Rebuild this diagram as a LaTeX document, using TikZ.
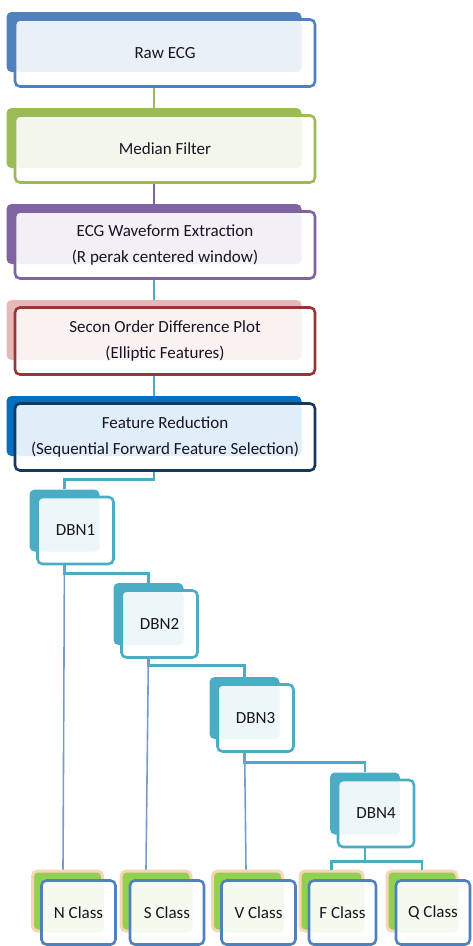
\documentclass[tikz,border=0pt]{standalone}
\usepackage{fontspec}
\setmainfont{Carlito}
\usepackage{tikz}
\usetikzlibrary{positioning, calc}
\usepackage{xcolor}
\definecolor{rawblue}{RGB}{79,129,189}
\definecolor{medgreen}{RGB}{155,187,89}
\definecolor{wavepurple}{RGB}{128,100,162}
\definecolor{sodppink}{RGB}{230,185,184}
\definecolor{sodpred}{RGB}{149,55,53}
\definecolor{fredblue}{RGB}{0,112,192}
\definecolor{frednavy}{RGB}{23,55,94}
\definecolor{dbnteal}{RGB}{75,172,198}
\definecolor{clsgreen}{RGB}{146,208,80}
\definecolor{clsglow}{RGB}{251,212,180}
\definecolor{leafblue}{RGB}{120,155,205}
\definecolor{textdark}{RGB}{25,20,35}
\newcommand{\boxfont}{\fontsize{17}{26}\selectfont}

\tikzset{
  stagebk/.style={rectangle, rounded corners=5pt, fill=#1, inner sep=0pt,
    minimum width=295pt, minimum height=60pt},
  stagebox/.style={rectangle, rounded corners=5pt, draw=#1, line width=2.6pt,
    fill=white, inner sep=0pt, minimum width=300pt, minimum height=67pt,
    align=center, font=\boxfont, text=textdark},
  tint/.style 2 args={path picture={
    \fill[#1] (path picture bounding box.north west) rectangle (#2.south east);}},
  dbnbk/.style={stagebk=dbnteal, minimum width=70pt, minimum height=62pt},
  dbnbox/.style={stagebox=dbnteal, minimum width=76pt, minimum height=67pt,
    tint={dbnteal!10}{#1}},
  clsbk/.style={rectangle, rounded corners=5pt, fill=clsgreen, draw=clsglow,
    line width=3pt, minimum width=70pt, minimum height=60pt},
  clsbox/.style={stagebox=rawblue, minimum width=74pt, minimum height=64pt,
    tint={clsgreen!10}{#1}},
  link/.style={draw=#1, line width=2.8pt},
  leaf/.style={draw=leafblue, line width=1.6pt}
}

\begin{document}
\begin{tikzpicture}[x=1pt, y=-1pt]
  \useasboundingbox (0,0) rectangle (473,946);

  % back plates of the pipeline
  \node[stagebk=rawblue] (rawbk) at (154,42) {};
  \node[stagebk=medgreen, below=35.6pt of rawbk] (medianbk) {};
  \node[stagebk=wavepurple, below=35.6pt of medianbk] (wavebk) {};
  \node[stagebk=sodppink, below=35.6pt of wavebk] (sodpbk) {};
  \node[stagebk=fredblue, below=35.6pt of sodpbk] (fredbk) {};

  \node[dbnbk] (dbn1bk) at (64.5,520.5) {};
  \node[dbnbk] (dbn2bk) at (148.5,614) {};
  \node[dbnbk] (dbn3bk) at (244.5,708) {};
  \node[dbnbk] (dbn4bk) at (365,803.5) {};

  \node[clsbk] (nclsbk) at (67.5,901) {};
  \node[clsbk] (sclsbk) at (156,901) {};
  \node[clsbk] (vclsbk) at (247.5,901) {};
  \node[clsbk, minimum width=63pt] (fclsbk) at (331.5,901) {};
  \node[clsbk] (qclsbk) at (422,901) {};

  % connectors
  \draw[link=medgreen] (rawbk.south) -- (medianbk.north);
  \draw[link=wavepurple] (medianbk.south) -- (wavebk.north);
  \draw[link=dbnteal] (wavebk.south) -- (sodpbk.north);
  \draw[link=dbnteal] (sodpbk.south) -- (fredbk.north);
  \draw[link=dbnteal] (fredbk.south) -- ++(0,23) -| (dbn1bk.north);
  \draw[link=dbnteal] (dbn1bk.south) -- ++(0,21.5) -| (dbn2bk.north);
  \draw[link=dbnteal] (dbn2bk.south) -- ++(0,20) -| (dbn3bk.north);
  \draw[link=dbnteal] (dbn3bk.south) -- ++(0,23) -| (dbn4bk.north);
  \draw[link=dbnteal] (dbn4bk.south) -- ++(0,27) coordinate (split);
  \draw[link=dbnteal] (split) -| (fclsbk.north);
  \draw[link=dbnteal] (split) -| (qclsbk.north);

  \draw[leaf] (dbn1bk.south) -- ([xshift=-4.5pt]nclsbk.north);
  \draw[leaf] (dbn2bk.south) -- ([xshift=-10pt]sclsbk.north);
  \draw[leaf] (dbn3bk.south) -- ([xshift=-1.5pt]vclsbk.north);

  % front boxes with text
  \node[stagebox=rawblue, tint={rawblue!12}{rawbk}] (raw)
    at ([shift={(11,11)}]rawbk.center) {Raw ECG};
  \node[stagebox=medgreen, tint={medgreen!12}{medianbk}] (median)
    at ([shift={(11,11)}]medianbk.center) {Median Filter};
  \node[stagebox=wavepurple, tint={wavepurple!10}{wavebk}] (wave)
    at ([shift={(11,11)}]wavebk.center) {ECG Waveform Extraction\\(R perak centered window)};
  \node[stagebox=sodpred, tint={sodppink!20}{sodpbk}] (sodp)
    at ([shift={(11,11)}]sodpbk.center) {Secon Order Difference Plot\\(Elliptic Features)};
  \node[stagebox=frednavy, tint={fredblue!12}{fredbk}] (fred)
    at ([shift={(11,11)}]fredbk.center) {Feature Reduction\\(Sequential Forward Feature Selection)};

  \node[dbnbox=dbn1bk] (dbn1) at ([shift={(11,10)}]dbn1bk.center) {DBN1};
  \node[dbnbox=dbn2bk] (dbn2) at ([shift={(11,10)}]dbn2bk.center) {DBN2};
  \node[dbnbox=dbn3bk] (dbn3) at ([shift={(11,10)}]dbn3bk.center) {DBN3};
  \node[dbnbox=dbn4bk] (dbn4) at ([shift={(11,10)}]dbn4bk.center) {DBN4};

  \node[clsbox=nclsbk] (ncls) at ([shift={(11,11.5)}]nclsbk.center) {N Class};
  \node[clsbox=sclsbk] (scls) at ([shift={(11,11.5)}]sclsbk.center) {S Class};
  \node[clsbox=vclsbk] (vcls) at ([shift={(11,11.5)}]vclsbk.center) {V Class};
  \node[clsbox=fclsbk, minimum width=67pt] (fcls)
    at ([shift={(11,11.5)}]fclsbk.center) {F Class};
  \node[clsbox=qclsbk] (qcls) at ([shift={(11,11.5)}]qclsbk.center) {Q Class};
\end{tikzpicture}
\end{document}
